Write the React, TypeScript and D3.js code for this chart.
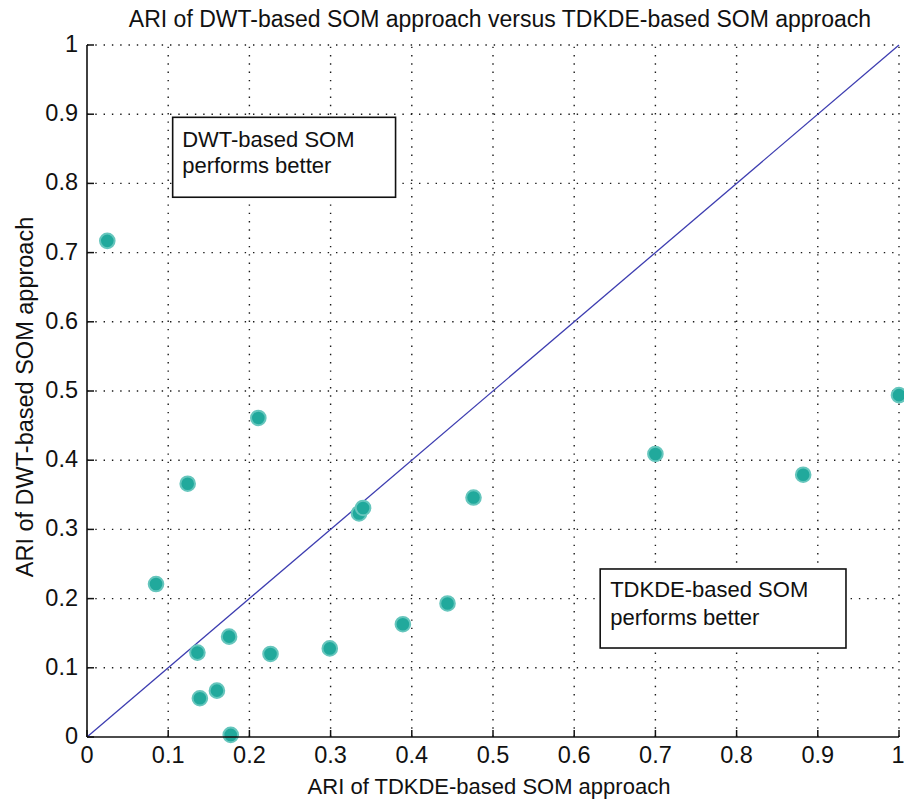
import React from "react";
import * as d3 from "d3";

// ARI of the TDKDE-based SOM approach (x) per data set
const tdkdeAri: number[] = [
  0.025, 0.085, 0.124, 0.136, 0.139, 0.160, 0.175, 0.177, 0.211, 0.226,
  0.299, 0.335, 0.340, 0.389, 0.444, 0.476, 0.700, 0.882, 1.0,
];
// ARI of the DWT-based SOM approach (y) for the same data sets
const dwtAri: number[] = [
  0.717, 0.221, 0.366, 0.122, 0.056, 0.067, 0.145, 0.003, 0.461, 0.120,
  0.128, 0.323, 0.331, 0.163, 0.193, 0.346, 0.409, 0.379, 0.494,
];

const tickValues: number[] = [0, 0.1, 0.2, 0.3, 0.4, 0.5, 0.6, 0.7, 0.8, 0.9, 1];
const tickLabels: string[] = ["0", "0.1", "0.2", "0.3", "0.4", "0.5", "0.6", "0.7", "0.8", "0.9", "1"];

const titleText = "ARI of DWT-based SOM approach versus TDKDE-based SOM approach";
const xLabelText = "ARI of TDKDE-based SOM approach";
const yLabelText = "ARI of DWT-based SOM approach";
const upperNote: string[] = ["DWT-based SOM", "performs better"];
const lowerNote: string[] = ["TDKDE-based SOM", "performs better"];

const W = 904;
const H = 801;
const left = 87;
const right = 899;
const top = 45;
const bottom = 737;
const FONT = "'Liberation Sans', Arial, Helvetica, sans-serif";

export default function App() {
  const x = d3.scaleLinear().domain([0, 1]).range([left, right]);
  const y = d3.scaleLinear().domain([0, 1]).range([bottom, top]);
  const points = tdkdeAri.map((v, i) => ({ x: v, y: dwtAri[i] }));
  const diag = d3.line<number>().x((d) => x(d)).y((d) => y(d))([0, 1]) || "";

  const gridStyle = { stroke: "#1a1a1a", strokeWidth: 1.4, strokeDasharray: "1.4,6.9" };

  // annotation boxes in data coordinates
  const upperBox = { x0: 0.1055, x1: 0.38, y0: 0.78, y1: 0.8955 };
  const lowerBox = { x0: 0.632, x1: 0.9347, y0: 0.1286, y1: 0.2428 };

  return (
    <svg
      width={W}
      height={H}
      style={{ position: "absolute", left: 0, top: 0, background: "#fff" }}
      fontFamily={FONT}
    >
      <rect x={0} y={0} width={W} height={H} fill="#fff" />

      {/* dotted grid */}
      {tickValues.filter((t) => t > 0).map((t) => (
        <line key={"gx" + t} x1={x(t)} x2={x(t)} y1={bottom} y2={top} {...gridStyle} />
      ))}
      {tickValues.filter((t) => t > 0).map((t) => (
        <line key={"gy" + t} x1={left} x2={right} y1={y(t)} y2={y(t)} {...gridStyle} />
      ))}

      {/* diagonal y = x */}
      <path d={diag} fill="none" stroke="#3c3cb0" strokeWidth={1.3} />

      {/* data points */}
      {points.map((p, i) => (
        <circle
          key={i}
          cx={x(p.x)}
          cy={y(p.y)}
          r={7.3}
          fill="#21a99c"
          stroke="#66c6bd"
          strokeWidth={2}
        />
      ))}

      {/* axes */}
      <line x1={left} x2={left} y1={top} y2={bottom} stroke="#111" strokeWidth={1.6} />
      <line x1={left} x2={right} y1={bottom} y2={bottom} stroke="#111" strokeWidth={1.6} />
      {tickValues.map((t) => (
        <line key={"tx" + t} x1={x(t)} x2={x(t)} y1={bottom} y2={bottom - 7} stroke="#111" strokeWidth={1.5} />
      ))}
      {tickValues.map((t) => (
        <line key={"ty" + t} x1={left} x2={left + 7} y1={y(t)} y2={y(t)} stroke="#111" strokeWidth={1.5} />
      ))}

      {/* tick labels */}
      {tickValues.map((t, i) => (
        <text
          key={"lx" + t}
          x={Math.min(x(t), W - 6)}
          y={bottom + 26}
          fontSize={23.5}
          textAnchor="middle"
          fill="#111"
        >
          {tickLabels[i]}
        </text>
      ))}
      {tickValues.map((t, i) => (
        <text key={"ly" + t} x={78} y={y(t) + 7} fontSize={23.5} textAnchor="end" fill="#111">
          {tickLabels[i]}
        </text>
      ))}

      {/* annotation boxes */}
      <rect
        x={x(upperBox.x0)}
        y={y(upperBox.y1)}
        width={x(upperBox.x1) - x(upperBox.x0)}
        height={y(upperBox.y0) - y(upperBox.y1)}
        fill="#fff"
        stroke="#111"
        strokeWidth={1.6}
      />
      {upperNote.map((s, i) => (
        <text key={"un" + i} x={x(upperBox.x0) + 9.5} y={y(upperBox.y1) + 29.5 + i * 26.5} fontSize={22} fill="#111">
          {s}
        </text>
      ))}
      <rect
        x={x(lowerBox.x0)}
        y={y(lowerBox.y1)}
        width={x(lowerBox.x1) - x(lowerBox.x0)}
        height={y(lowerBox.y0) - y(lowerBox.y1)}
        fill="#fff"
        stroke="#111"
        strokeWidth={1.6}
      />
      {lowerNote.map((s, i) => (
        <text key={"ln" + i} x={x(lowerBox.x0) + 10} y={y(lowerBox.y1) + 28 + i * 28} fontSize={22} fill="#111">
          {s}
        </text>
      ))}

      {/* titles */}
      <text x={500} y={27} fontSize={23} textAnchor="middle" fill="#111">
        {titleText}
      </text>
      <text x={489} y={794} fontSize={22} textAnchor="middle" fill="#111">
        {xLabelText}
      </text>
      <text
        transform={`translate(33, 397) rotate(-90)`}
        fontSize={23.5}
        textAnchor="middle"
        fill="#111"
      >
        {yLabelText}
      </text>
    </svg>
  );
}
